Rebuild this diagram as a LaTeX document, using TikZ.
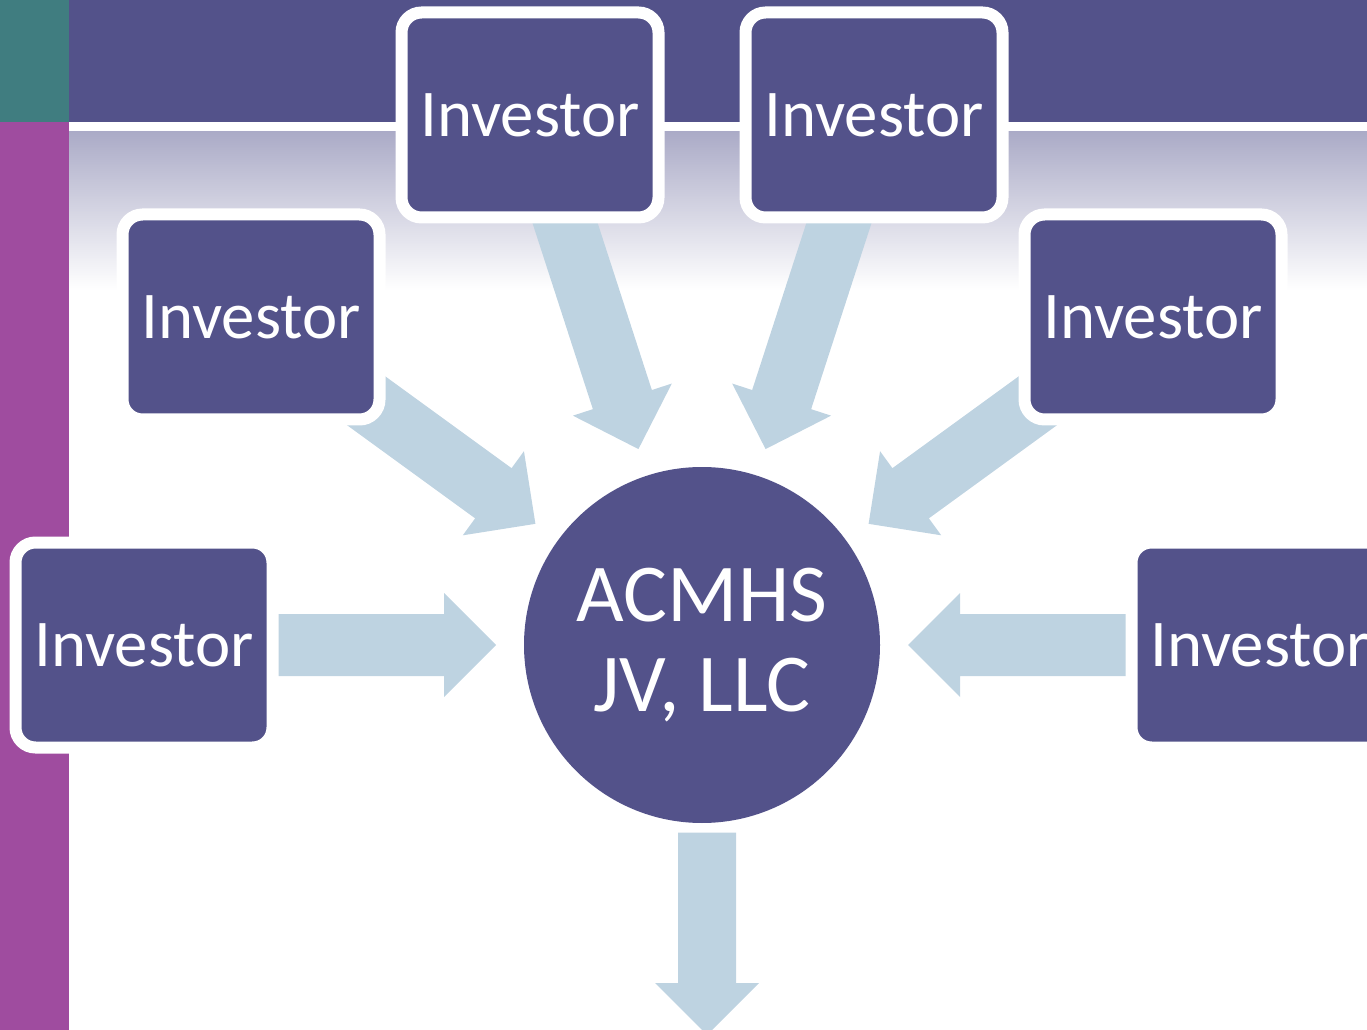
\documentclass[tikz,border=0pt]{standalone}
\usepackage{fontspec}
\setmainfont{Carlito}
\usetikzlibrary{calc,positioning}

\definecolor{bandpurple}{RGB}{83,82,138}
\definecolor{sideteal}{RGB}{64,125,128}
\definecolor{sidemagenta}{RGB}{159,76,159}
\definecolor{flowblue}{RGB}{190,211,225}
\definecolor{fadegray}{RGB}{171,171,199}

\pgfdeclarelayer{back}
\pgfdeclarelayer{flows}
\pgfsetlayers{back,flows,main}

% block arrow from #2 to its tip #3, shaft half width #1
\newcommand\blockarrow[3][3.1mm]{%
  \fill[flow] ($(#2)!#1!-90:(#3)$)
    -- ($(#3)!5.2mm!(#2)!#1!-90:(#3)$)
    -- ($(#3)!5.2mm!(#2)!5.2mm!-90:(#3)$)
    -- (#3)
    -- ($(#3)!5.2mm!(#2)!5.2mm!90:(#3)$)
    -- ($(#3)!5.2mm!(#2)!#1!90:(#3)$)
    -- ($(#2)!#1!90:(#3)$) -- cycle;%
}

\begin{document}
\begin{tikzpicture}
  [x=0.1mm, y=-0.1mm,
    investor/.style={%
      rectangle, rounded corners=2mm, draw=white, line width=1.2mm,
      fill=bandpurple, text=white,
      minimum width=25.7mm, minimum height=20.5mm,
      font=\fontsize{19}{23}\selectfont
    },
    hubnode/.style={%
      circle, fill=bandpurple, text=white, minimum size=35.6mm,
      inner sep=0pt, align=center,
      font=\fontsize{23.4}{25.6}\selectfont
    },
    flow/.style={fill=flowblue},
  ]

  \useasboundingbox (0,0) rectangle (1367,1030);
  \clip (0,0) rectangle (1367,1030);

  \node[hubnode] (hub) at (702,645) {ACMHS\\JV, LLC};

  \node[investor] (b1) at (530,115) {Investor};
  \node[investor] (b2) at (874,115) {Investor};
  \node[investor] (b3) at (251,317) {Investor};
  \node[investor] (b4) at (1153,317) {Investor};
  \node[investor] (b5) at (144,645) {Investor};
  \node[investor] (b6) at (1260,645) {Investor};

  \begin{pgfonlayer}{back}
    \fill[sideteal] (0,0) rectangle (69,122);
    \fill[bandpurple] (69,0) rectangle (1367,122);
    \fill[sidemagenta] (0,122) rectangle (69,1030);
    \shade[top color=fadegray, bottom color=white] (69,132) rectangle (1367,290);
  \end{pgfonlayer}

  \begin{pgfonlayer}{flows}
    \clip (0,0) rectangle (1367,1030);
    \foreach \b in {b1,b2,b3,b4,b5,b6}{
      \coordinate (tip) at ($(hub.center)!20.6mm!(\b.center)$);
      \blockarrow{\b.center}{tip}
    }
    \coordinate (outstart) at ($(hub.south)+(5,9)$);
    \coordinate (out) at (707,1035);
    \blockarrow[2.9mm]{outstart}{out}
  \end{pgfonlayer}

\end{tikzpicture}
\end{document}
